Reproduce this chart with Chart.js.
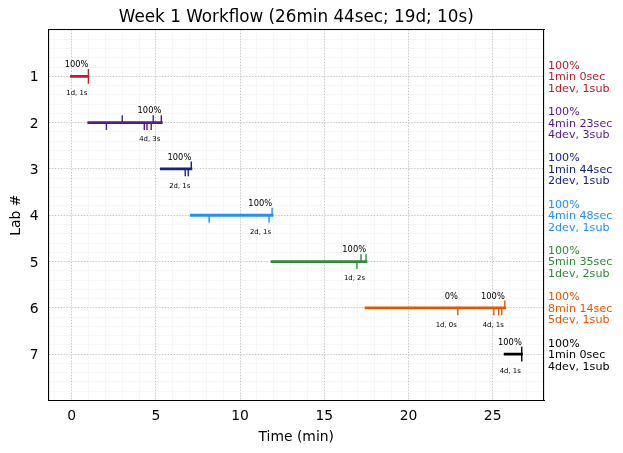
<!DOCTYPE html>
<html>
<head>
<meta charset="utf-8">
<script src="https://cdn.jsdelivr.net/npm/chart.js@4"></script>
<style>
  html, body { margin: 0; padding: 0; background: #fff; }
  canvas { display: block; }
</style>
</head>
<body>
<canvas id="chart" width="623" height="453"></canvas>
<script>
const chartTitle = "Week 1 Workflow (26min 44sec; 19d; 10s)";
const labs = [1, 2, 3, 4, 5, 6, 7];
const colors = ["#b8202a", "#551a8b", "#1c2283", "#1e90ff", "#2e8b3a", "#e85500", "#000000"];

// [start, end] of each lab's bar, in minutes
const spans = [[-0.1, 1.03], [0.93, 5.4], [5.24, 7.16], [7.02, 11.98], [11.82, 17.56], [17.4, 25.8], [25.66, 26.79]];

const upTicks = [[0.99], [3.0, 4.84, 5.32], [7.1], [11.9], [17.18, 17.48], [25.72], [26.73]];
const downTicks = [[0.99], [2.06, 4.31, 4.47, 4.72], [6.74, 6.92], [8.16, 11.72], [16.94], [22.93, 25.07, 25.36, 25.54], [26.73]];

// checkpoints: time, percent done, devs + seconds note
const noteLab = [1, 2, 3, 4, 5, 6, 6, 7];
const noteTime = [0.99, 5.32, 7.1, 11.9, 17.48, 22.93, 25.72, 26.73];
const notePct = ["100%", "100%", "100%", "100%", "100%", "0%", "100%", "100%"];
const noteSub = ["1d, 1s", "4d, 3s", "2d, 1s", "2d, 1s", "1d, 2s", "1d, 0s", "4d, 1s", "4d, 1s"];

const sidePct = ["100%", "100%", "100%", "100%", "100%", "100%", "100%"];
const sideTime = ["1min 0sec", "4min 23sec", "1min 44sec", "4min 48sec", "5min 35sec", "8min 14sec", "1min 0sec"];
const sideDevs = ["1dev, 1sub", "4dev, 3sub", "2dev, 1sub", "2dev, 1sub", "1dev, 2sub", "5dev, 1sub", "4dev, 1sub"];

const xMin = -1.38, xMax = 28.05;
const tickLen = 0.16;
const FONT = "'DejaVu Sans', sans-serif";

function tickPoints(lab, xs, dir) {
  const pts = [];
  xs.forEach(x => {
    pts.push({ x, y: lab }, { x, y: lab + dir * tickLen }, { x: null, y: null });
  });
  return pts;
}

const datasets = [];
labs.forEach((lab, i) => {
  datasets.push({
    data: spans[i].map(x => ({ x, y: lab })),
    borderColor: colors[i], borderWidth: 2.8, borderCapStyle: "butt",
    pointRadius: 0, order: 1,
  });
  datasets.push({
    data: tickPoints(lab, upTicks[i], -1).concat(tickPoints(lab, downTicks[i], 1)),
    borderColor: colors[i], borderWidth: 1.4, borderCapStyle: "butt",
    pointRadius: 0, spanGaps: false, order: 2,
  });
});

// title centred on the plot, text next to the bars and in the right margin
const annotations = {
  id: "annotations",
  afterDatasetsDraw(chart) {
    const { ctx, scales: { x, y }, chartArea } = chart;
    ctx.save();
    ctx.textBaseline = "middle";
    ctx.fillStyle = "#000";
    ctx.textAlign = "center";
    ctx.font = "16.8px " + FONT;
    ctx.fillText(chartTitle, (chartArea.left + chartArea.right) / 2, 17.5);
    ctx.textAlign = "right";
    noteLab.forEach((lab, i) => {
      const px = x.getPixelForValue(noteTime[i]);
      const py = y.getPixelForValue(lab);
      ctx.font = "8.3px " + FONT;
      ctx.fillText(notePct[i], px, py - 11.5);
      ctx.font = "6.9px " + FONT;
      ctx.fillText(noteSub[i], px - 1, py + 17);
    });
    ctx.textAlign = "left";
    ctx.font = "11.1px " + FONT;
    labs.forEach((lab, i) => {
      const py = y.getPixelForValue(lab) + 1;
      ctx.fillStyle = colors[i];
      ctx.fillText(sidePct[i], chartArea.right + 4, py - 11.5);
      ctx.fillText(sideTime[i], chartArea.right + 4, py);
      ctx.fillText(sideDevs[i], chartArea.right + 4, py + 11.5);
    });
    ctx.restore();
  }
};

new Chart(document.getElementById("chart"), {
  type: "line",
  data: { datasets },
  plugins: [annotations],
  options: {
    responsive: false,
    animation: false,
    parsing: false,
    normalized: false,
    layout: { padding: { top: 30, right: 79, bottom: 0, left: 0 } },
    plugins: {
      legend: { display: false },
      tooltip: { enabled: false },
    },
    scales: {
      x: {
        type: "linear", position: "bottom", min: xMin, max: xMax,
        afterFit: s => { s.height = 52.5; },
        ticks: { stepSize: 5, includeBounds: false, color: "#000", font: { family: FONT, size: 13.9 }, padding: 3, maxRotation: 0 },
        grid: { color: "#c0c0c0", drawTicks: true, tickColor: "transparent", tickLength: 5, tickBorderDash: [] },
        border: { color: "#000", width: 1.1, dash: [1.1, 1.8] },
        title: { display: true, text: "Time (min)", color: "#000", font: { family: FONT, size: 13.9 }, padding: { top: 0, bottom: 7 } },
      },
      y: {
        type: "linear", position: "left", min: 0, max: 8, reverse: true,
        afterFit: s => { s.width = 48.5; },
        ticks: { stepSize: 1, includeBounds: false, color: "#000", font: { family: FONT, size: 13.9 }, padding: 5, labelOffset: 1.5,
          callback: v => (v >= 1 && v <= 7 ? String(v) : "") },
        grid: { color: c => (c.tick && c.tick.value > 0 && c.tick.value < 8 ? "#c0c0c0" : "transparent"), drawTicks: true,
          tickColor: "transparent", tickLength: 5, tickBorderDash: [] },
        border: { color: "#000", width: 1.1, dash: [1.1, 1.8] },
        title: { display: true, text: "Lab #", color: "#000", font: { family: FONT, size: 13.9 }, padding: { top: 8, bottom: 0 } },
      },
      xMinor: {
        type: "linear", position: "top", min: xMin, max: xMax,
        ticks: { display: false, stepSize: 1, includeBounds: false },
        grid: { color: "#f7f7f7", lineWidth: 1, drawTicks: false, z: -2 },
        border: { color: "#000", width: 1.1 },
      },
      yMinor: {
        type: "linear", position: "right", min: 0, max: 8, reverse: true,
        ticks: { display: false, stepSize: 0.2, includeBounds: false },
        grid: { color: "#f7f7f7", lineWidth: 1, drawTicks: false, z: -2 },
        border: { color: "#000", width: 1.1 },
      },
    },
  },
});
</script>
</body>
</html>
